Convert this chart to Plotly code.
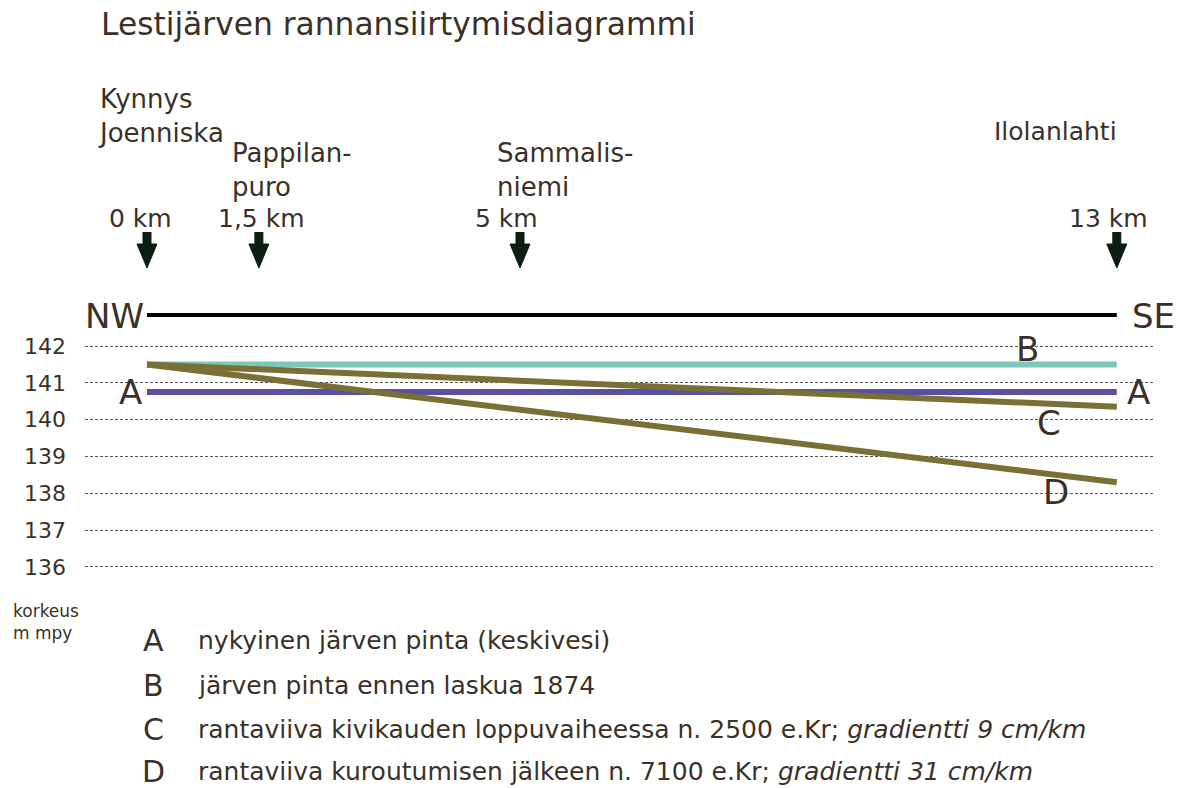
import plotly.graph_objects as go

# ---------------- data ----------------
km_ends = [0, 13]                      # profile NW -> SE (km)
line_A = [140.75, 140.75]              # nykyinen järven pinta
line_B = [141.5, 141.5]                # järven pinta ennen laskua 1874
line_C = [141.5, 140.35]               # rantaviiva n. 2500 e.Kr
line_D = [141.5, 138.3]                # rantaviiva n. 7100 e.Kr
y_ticks = [136, 137, 138, 139, 140, 141, 142]

site_km = [0, 1.5, 5, 13]
site_km_labels = ["0 km", "1,5 km", "5 km", "13 km"]
site_names = ["Kynnys<br>Joenniska", "Pappilan-<br>puro", "Sammalis-<br>niemi", "Ilolanlahti"]

legend_letters = ["A", "B", "C", "D"]
legend_texts = [
    "nykyinen järven pinta (keskivesi)",
    "järven pinta ennen laskua 1874",
    "rantaviiva kivikauden loppuvaiheessa n. 2500 e.Kr; <i>gradientti 9 cm/km</i>",
    "rantaviiva kuroutumisen jälkeen n. 7100 e.Kr; <i>gradientti 31 cm/km</i>",
]
title = "Lestijärven rannansiirtymisdiagrammi"

# ---------------- layout geometry ----------------
W, H = 1189, 788
L, R = 85, 35
PX0, PXKM = 147.0, 74.6         # pixel of 0 km, pixels per km
PY142, PYM = 346.0, 36.8        # pixel of 142 m, pixels per m

def x_of(p):
    return (p - PX0) / PXKM

def y_of(p):
    return 142 - (p - PY142) / PYM

def km_px(k):
    return PX0 + k * PXKM

def xp(p):
    return (p - L) / (W - L - R)

def yp(p):
    return 1 - p / H

FONT = "DejaVu Sans"
TXT = "#3b3128"

fig = go.Figure()

# NW - SE base line
fig.add_trace(go.Scatter(x=km_ends, y=[y_of(315)] * 2, mode="lines",
                         line=dict(color="black", width=4), hoverinfo="skip"))

# lake level lines
fig.add_trace(go.Scatter(x=km_ends, y=line_B, mode="lines",
                         line=dict(color="#7cc7b5", width=6), hoverinfo="skip"))
fig.add_trace(go.Scatter(x=km_ends, y=line_A, mode="lines",
                         line=dict(color="#5a4fa2", width=6), hoverinfo="skip"))
fig.add_trace(go.Scatter(x=km_ends, y=line_C, mode="lines",
                         line=dict(color="#7a7037", width=6), hoverinfo="skip"))
fig.add_trace(go.Scatter(x=km_ends, y=line_D, mode="lines",
                         line=dict(color="#7a7037", width=6), hoverinfo="skip"))

# arrows (polygons) at site positions
top, base, tip = 232, 244, 268
sw, hw = 4, 10
for k in site_km:
    c = km_px(k)
    xs = [x_of(c - sw), x_of(c - sw), x_of(c - hw), x_of(c), x_of(c + hw), x_of(c + sw), x_of(c + sw)]
    ys = [y_of(top), y_of(base), y_of(base), y_of(tip), y_of(base), y_of(base), y_of(top)]
    fig.add_trace(go.Scatter(x=xs, y=ys, mode="lines", fill="toself",
                             fillcolor="#0e1d11", line=dict(color="#0e1d11", width=1),
                             hoverinfo="skip"))

ann = []

def add_text(text, px, py, size, xanchor="left", yanchor="middle", align="left"):
    ann.append(dict(text=text, x=xp(px), y=yp(py), xref="paper", yref="paper",
                    showarrow=False, xanchor=xanchor, yanchor=yanchor, align=align,
                    font=dict(family=FONT, size=size, color=TXT)))

# title
add_text(title, 99, 24, 31.3)

# site names and km labels
name_pos = [(96, 116), (230, 170), (495, 170), (992, 132)]
name_size = [26, 26, 26, 25]
km_label_px = [140, 261, 506, 1108]
for i in range(len(site_km)):
    nx, ny = name_pos[i]
    add_text(site_names[i], nx, ny, name_size[i])
    add_text(site_km_labels[i], km_label_px[i], 218, 25, xanchor="center")

# NW / SE
add_text("NW", 146, 316, 34, xanchor="right")
add_text("SE", 1130, 316, 34, xanchor="left")

# line letters
add_text("A", 130, 392, 34, xanchor="center")
add_text("A", 1138, 392, 34, xanchor="center")
add_text("B", 1027, 349, 34, xanchor="center")
add_text("C", 1049, 423, 34, xanchor="center")
add_text("D", 1056, 492, 34, xanchor="center")

# axis title
add_text("korkeus<br>m mpy", 11, 622, 17)

# legend
rows = [640, 685, 729, 771]
for i in range(4):
    add_text(legend_letters[i], 153, rows[i], 30, xanchor="center")
    add_text(legend_texts[i], 196, rows[i], 25)

fig.update_layout(
    width=W, height=H,
    margin=dict(l=L, r=R, t=0, b=0, pad=0),
    paper_bgcolor="white", plot_bgcolor="white",
    showlegend=False,
    annotations=ann,
    xaxis=dict(range=[x_of(L), x_of(W - R)], showgrid=False, zeroline=False,
               showticklabels=False, showline=False, fixedrange=True),
    yaxis=dict(range=[y_of(H), y_of(0)], tickvals=y_ticks, ticktext=[str(v) for v in y_ticks],
               showgrid=True, gridcolor="#555555", gridwidth=1, griddash="3px,2px",
               zeroline=False, showline=False, ticks="",
               ticklabelstandoff=18,
               tickfont=dict(family=FONT, size=22, color=TXT), fixedrange=True),
)

fig.write_html("out.html", config={"displayModeBar": False},
               post_script="document.body.style.margin='0';document.body.style.overflow='hidden';")
